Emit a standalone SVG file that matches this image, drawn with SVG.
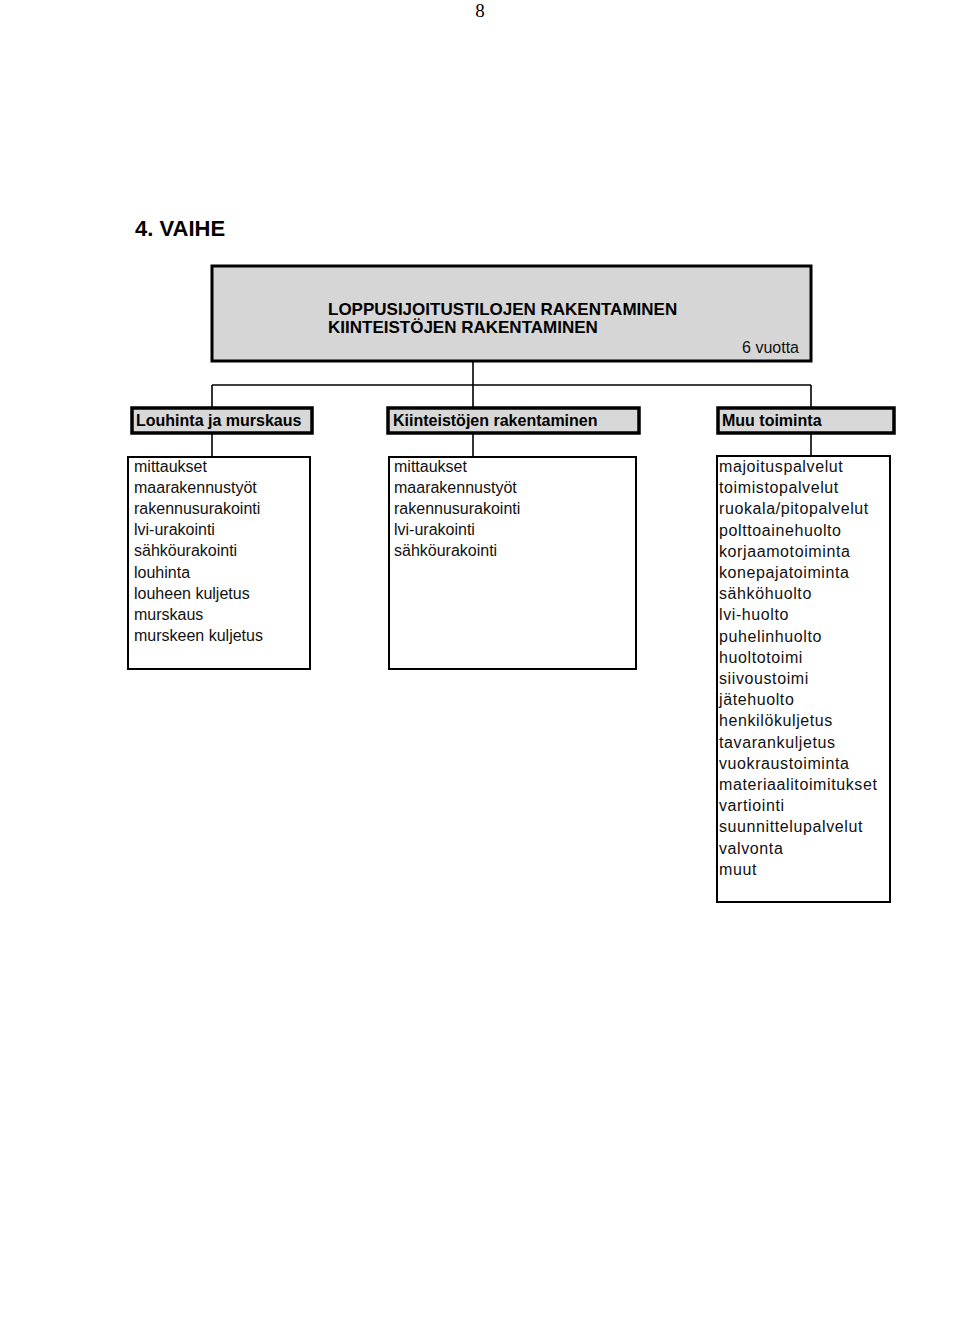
<svg xmlns="http://www.w3.org/2000/svg" width="960" height="1317" viewBox="0 0 960 1317">
<style>
.pg{font-family:"Liberation Serif",serif;font-size:19px;fill:#000}
.h1{font-family:"Liberation Sans",Arial,sans-serif;font-size:22px;font-weight:bold;fill:#000}
.ttl{font-family:"Liberation Sans",Arial,sans-serif;font-size:17px;font-weight:bold;fill:#000}
.hd{font-family:"Liberation Sans",Arial,sans-serif;font-size:16px;font-weight:bold;fill:#000}
.tx{font-family:"Liberation Sans",Arial,sans-serif;font-size:16px;fill:#111}
.tx2{font-family:"Liberation Sans",Arial,sans-serif;font-size:16px;letter-spacing:0.6px;fill:#111}
.banner{fill:#d6d6d6;stroke:#000;stroke-width:3}
.hbox{fill:#d8d8d8;stroke:#000;stroke-width:3.5}
.cbox{fill:#fff;stroke:#000;stroke-width:2}
.conn{stroke:#000;stroke-width:1.6;fill:none}
</style>
<rect width="960" height="1317" fill="#fff"/>
<text class="pg" x="480" y="17" text-anchor="middle">8</text>
<text class="h1" x="135" y="236">4. VAIHE</text>

<g id="connectors">
<line class="conn" x1="473" y1="362" x2="473" y2="407"/>
<line class="conn" x1="212" y1="385" x2="811" y2="385"/>
<line class="conn" x1="212" y1="385" x2="212" y2="407"/>
<line class="conn" x1="811" y1="385" x2="811" y2="407"/>
<line class="conn" x1="212" y1="433" x2="212" y2="457"/>
<line class="conn" x1="473" y1="433" x2="473" y2="457"/>
<line class="conn" x1="811" y1="433" x2="811" y2="456"/>
</g>

<g id="banner">
<rect class="banner" x="212" y="266" width="599" height="95"/>
<text class="ttl" x="328" y="315">LOPPUSIJOITUSTILOJEN RAKENTAMINEN</text>
<text class="ttl" x="328" y="333">KIINTEISTÖJEN RAKENTAMINEN</text>
<text class="tx" x="799" y="353" text-anchor="end">6 vuotta</text>
</g>

<g id="louhinta">
<rect class="hbox" x="132" y="408" width="180" height="25"/>
<text class="hd" x="136" y="426">Louhinta ja murskaus</text>
</g>
<g id="kiinteistot">
<rect class="hbox" x="388" y="408" width="251" height="25"/>
<text class="hd" x="393" y="426">Kiinteistöjen rakentaminen</text>
</g>
<g id="muu">
<rect class="hbox" x="718" y="408" width="176" height="25"/>
<text class="hd" x="722" y="426">Muu toiminta</text>
</g>

<g id="louhinta-list">
<rect class="cbox" x="128" y="457" width="182" height="212"/>
<text class="tx" x="134" y="472">mittaukset</text>
<text class="tx" x="134" y="493">maarakennustyöt</text>
<text class="tx" x="134" y="514">rakennusurakointi</text>
<text class="tx" x="134" y="535">lvi-urakointi</text>
<text class="tx" x="134" y="556">sähköurakointi</text>
<text class="tx" x="134" y="578">louhinta</text>
<text class="tx" x="134" y="599">louheen  kuljetus</text>
<text class="tx" x="134" y="620">murskaus</text>
<text class="tx" x="134" y="641">murskeen kuljetus</text>
</g>

<g id="kiinteistot-list">
<rect class="cbox" x="389" y="457" width="247" height="212"/>
<text class="tx" x="394" y="472">mittaukset</text>
<text class="tx" x="394" y="493">maarakennustyöt</text>
<text class="tx" x="394" y="514">rakennusurakointi</text>
<text class="tx" x="394" y="535">lvi-urakointi</text>
<text class="tx" x="394" y="556">sähköurakointi</text>
</g>

<g id="muu-list">
<rect class="cbox" x="717" y="456" width="173" height="446"/>
<text class="tx2" x="719" y="472">majoituspalvelut</text>
<text class="tx2" x="719" y="493">toimistopalvelut</text>
<text class="tx2" x="719" y="514">ruokala/pitopalvelut</text>
<text class="tx2" x="719" y="536">polttoainehuolto</text>
<text class="tx2" x="719" y="557">korjaamotoiminta</text>
<text class="tx2" x="719" y="578">konepajatoiminta</text>
<text class="tx2" x="719" y="599">sähköhuolto</text>
<text class="tx2" x="719" y="620">lvi-huolto</text>
<text class="tx2" x="719" y="642">puhelinhuolto</text>
<text class="tx2" x="719" y="663">huoltotoimi</text>
<text class="tx2" x="719" y="684">siivoustoimi</text>
<text class="tx2" x="719" y="705">jätehuolto</text>
<text class="tx2" x="719" y="726">henkilökuljetus</text>
<text class="tx2" x="719" y="748">tavarankuljetus</text>
<text class="tx2" x="719" y="769">vuokraustoiminta</text>
<text class="tx2" x="719" y="790">materiaalitoimitukset</text>
<text class="tx2" x="719" y="811">vartiointi</text>
<text class="tx2" x="719" y="832">suunnittelupalvelut</text>
<text class="tx2" x="719" y="854">valvonta</text>
<text class="tx2" x="719" y="875">muut</text>
</g>
</svg>
